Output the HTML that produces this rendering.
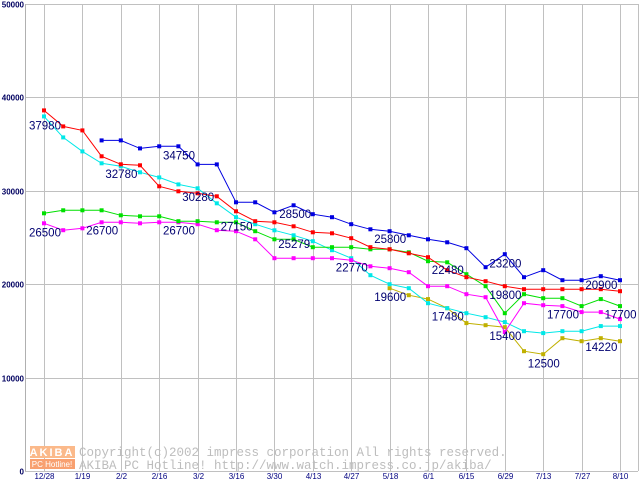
<!DOCTYPE html>
<html><head><meta charset="utf-8"><style>
html,body{margin:0;padding:0;background:#fff;}
svg{display:block;}
</style></head><body>
<svg id="chart" width="640" height="480" viewBox="0 0 640 480" xmlns="http://www.w3.org/2000/svg" font-family="Liberation Sans, sans-serif">
<g id="grid"></g>
<g id="axes"></g>
<g id="watermark">
  <rect x="30" y="446" width="45" height="12" fill="#fbb98a"/>
  <text x="52" y="456" font-size="11" font-weight="bold" fill="#fff" text-anchor="middle" letter-spacing="2">AKIBA</text>
  <rect x="30" y="459" width="45" height="10" fill="#f8a070"/>
  <text x="52" y="467" font-size="8" fill="#fff" text-anchor="middle">PC Hotline!</text>
  <text x="79" y="456" font-family="Liberation Mono, monospace" font-size="12.5" fill="#bdbdbd">Copyright(c)2002 impress corporation All rights reserved.</text>
  <text x="79" y="469" font-family="Liberation Mono, monospace" font-size="12.5" fill="#bdbdbd">AKIBA PC Hotline!  http://www.watch.impress.co.jp/akiba/</text>
</g>
<g id="series"></g>
<g id="labels"></g>
</svg>
<script>
const xTicks = ["12/28","1/19","2/2","2/16","3/2","3/16","3/30","4/13","4/27","5/18","6/1","6/15","6/29","7/13","7/27","8/10"];
const yTicks = [0,10000,20000,30000,40000,50000];
const redValues = [38610,36900,36470,33690,32840,32730,30480,29950,29730,29410,27810,26740,26630,26200,25560,25450,24920,23960,23740,23310,22890,21500,20750,20320,19790,19460,19460,19460,19460,19460,19250];
const blueValues = [null,null,null,35400,35400,34540,34760,34760,32830,32830,28770,28770,27700,28450,27490,27170,26420,25880,25670,25240,24810,24490,23850,21820,23210,20750,21500,20430,20430,20860,20430];
const cyanValues = [37970,35720,34220,32940,32620,31980,31440,30690,30270,28660,27170,26420,25770,25240,24600,23640,22780,20960,20000,19570,17970,17430,16900,16470,15940,14970,14760,14970,14970,15510,15510];
const greenValues = [27590,27910,27910,27910,27380,27270,27270,26740,26740,26630,26630,25670,24810,24810,23960,23960,23960,23740,23740,23420,22460,22350,21070,19790,16900,18930,18500,18500,17650,18400,17650];
const magentaValues = [26520,25780,25990,26630,26630,26520,26630,26630,26420,25780,25670,24810,22780,22780,22780,22780,22570,21920,21710,21280,19790,19790,18930,18610,14870,17970,17750,17650,17010,17010,16260];
const oliveValues = [null,null,null,null,null,null,null,null,null,null,null,null,null,null,null,null,null,null,19570,18820,18400,17430,15830,15610,15400,12830,12510,14220,13900,14220,13900];
const labelTexts = ["37980","32780","34750","30280","26500","26700","26700","27150","28500","25279","25800","22770","22480","23200","19800","19600","17480","15400","12500","17700","20900","17700","14220"];
const labelIndex = [-0.78,3.2,6.2,7.2,-0.78,2.2,6.2,9.2,12.25,12.2,17.2,15.2,20.2,23.2,23.2,17.2,20.2,23.2,25.2,26.2,28.2,29.2,28.2];
const labelValues = [37980,32780,34750,30280,26500,26700,26700,27150,28500,25279,25800,22770,22480,23200,19800,19600,17480,15400,12500,17700,20900,17700,14220];

const NS="http://www.w3.org/2000/svg";
const X0=44, STEP=19.2, Y0=471, YTOP=4, VMAX=50000;
function xPos(i){return X0+i*STEP;}
function yPos(v){return Y0-(v/VMAX)*(Y0-YTOP);}
function mk(tag,attrs,parent){const e=document.createElementNS(NS,tag);for(const k in attrs)e.setAttribute(k,attrs[k]);parent.appendChild(e);return e;}

const grid=document.getElementById('grid');
const axes=document.getElementById('axes');
yTicks.forEach(t=>{
  const y=Math.round(yPos(t))+0.5;
  const l=mk('line',{x1:25,x2:638,y1:y,y2:y,stroke:'#c0c0c0','stroke-width':1},grid);
  
  
  const tx=mk('text',{x:24,y:y+3,'font-size':8,'font-weight':'bold',fill:'#000060','text-anchor':'end'},axes);
  tx.textContent=String(t);
  
  
});
xTicks.forEach((t,k)=>{
  const x=Math.round(xPos(k*2))+0.5;
  const l=mk('line',{x1:x,x2:x,y1:YTOP,y2:Y0,stroke:'#c0c0c0','stroke-width':1},grid);
  
  
  const tx=mk('text',{x:x,y:479,'font-size':8,fill:'#000080','text-anchor':'middle'},axes);
  tx.textContent=t;
  
  
});
const la=mk('line',{x1:25.5,x2:25.5,y1:YTOP,y2:Y0,stroke:'#b0b0b0','stroke-width':1},axes);


const ra=mk('line',{x1:638.5,x2:638.5,y1:YTOP,y2:Y0,stroke:'#c0c0c0','stroke-width':1},axes);



const seriesG=document.getElementById('series');
const seriesList=[[oliveValues,'#c0b000','olive'],[cyanValues,'#00e8e8','cyan'],[magentaValues,'#ff00ff','magenta'],[greenValues,'#00e000','green'],[redValues,'#ff0000','red'],[blueValues,'#0000e0','blue']];
seriesList.forEach(([vals,col,nm])=>{
  const g=mk('g',{},seriesG);
  
  
  let pts=[];
  vals.forEach((v,i)=>{ if(v!==null) pts.push(xPos(i).toFixed(1)+','+yPos(v).toFixed(1)); });
  const pl=mk('polyline',{points:pts.join(' '),fill:'none',stroke:col,'stroke-width':1},g);
  
  
  vals.forEach((v,i)=>{
    if(v===null)return;
    const r=mk('rect',{x:(xPos(i)-2).toFixed(1),y:(yPos(v)-2).toFixed(1),width:4,height:4,fill:col},g);
    
    
  });
});

const labG=document.getElementById('labels');
labelTexts.forEach((t,k)=>{
  const tx=mk('text',{x:xPos(labelIndex[k]).toFixed(1),y:(yPos(labelValues[k])+13).toFixed(1),'font-size':11.5,fill:'#000070'},labG);
  tx.textContent=t;
  
  
});
</script>
</body></html>
